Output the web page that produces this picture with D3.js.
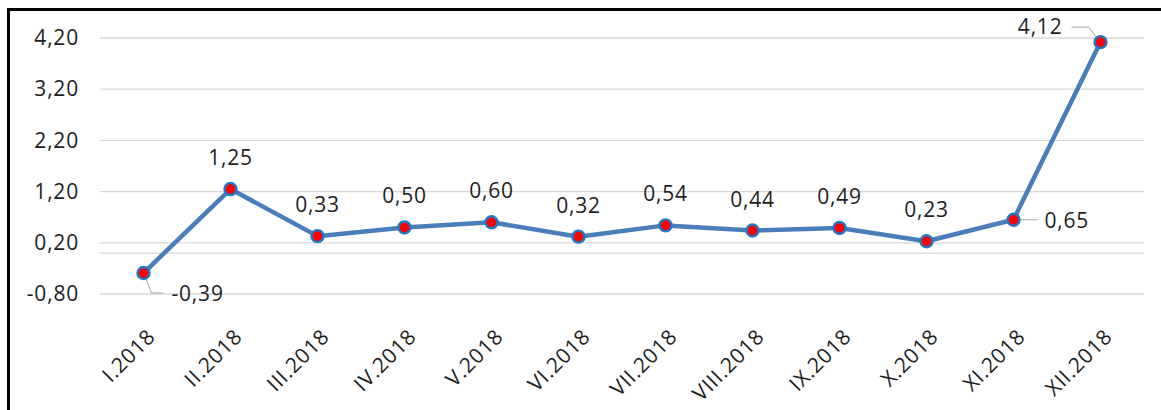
<!DOCTYPE html>
<html>
<head>
<meta charset="utf-8">
<script src="https://cdn.jsdelivr.net/npm/d3@7"></script>
<style>
  body { margin: 0; background: #fff; }
  svg text { font-family: "Open Sans", sans-serif; fill: #1e1e1e; }
</style>
</head>
<body>
<div id="chart"></div>
<script>
// data
const categories = ["I.2018", "II.2018", "III.2018", "IV.2018", "V.2018", "VI.2018",
  "VII.2018", "VIII.2018", "IX.2018", "X.2018", "XI.2018", "XII.2018"];
const values = [-0.39, 1.25, 0.33, 0.50, 0.60, 0.32, 0.54, 0.44, 0.49, 0.23, 0.65, 4.12];
const yTicks = [-0.80, 0.20, 1.20, 2.20, 3.20, 4.20];
// where each data label sits relative to its marker
const labelPlace = ["belowRight", "above", "above", "above", "above", "above",
  "above", "above", "above", "above", "right", "leftAbove"];

const W = 1161, H = 410;
const margin = {top: 38, right: 17, bottom: 116, left: 100};

const svg = d3.select("#chart").append("svg")
  .attr("width", W)
  .attr("height", H);

// frame (left + top only are visible)
svg.append("path")
  .attr("d", `M8.5,${H} L8.5,9.5 L${W},9.5`)
  .attr("fill", "none")
  .attr("stroke", "#000")
  .attr("stroke-width", 3);

const g = svg.append("g")
  .attr("transform", "translate(" + margin.left + "," + margin.top + ")");

const width = W - margin.left - margin.right,
      height = H - margin.top - margin.bottom;

const x = d3.scalePoint()
  .domain(categories)
  .range([0, width])
  .padding(0.5);

const y = d3.scaleLinear()
  .domain([-0.80, 4.20])
  .range([height, 0]);

const fmt = v => d3.format(".2f")(v).replace(".", ",").replace("−", "-");
const FS = "21px", LS = "0.8px";

// gridlines
g.selectAll(".grid")
  .data(yTicks)
  .enter().append("line")
  .attr("x1", 0).attr("x2", width)
  .attr("y1", d => y(d)).attr("y2", d => y(d))
  .attr("stroke", "#d9d9d9")
  .attr("stroke-width", 1.3);

// category axis line at zero
g.append("line")
  .attr("x1", 0).attr("x2", width)
  .attr("y1", y(0)).attr("y2", y(0))
  .attr("stroke", "#d9d9d9")
  .attr("stroke-width", 1.3);

// y axis labels
const yAxis = g.append("g")
  .call(d3.axisLeft(y).tickValues(yTicks).tickSize(0).tickPadding(21).tickFormat(fmt));
yAxis.select(".domain").remove();
yAxis.selectAll("text")
  .style("font-size", FS)
  .style("letter-spacing", LS)
  .attr("fill", "#1e1e1e")
  .attr("font-family", null);

// x axis labels, rotated
g.selectAll(".xlab")
  .data(categories)
  .enter().append("text")
  .attr("class", "xlab")
  .attr("transform", d => "translate(" + (x(d) + 13) + "," + (height + 44) + ") rotate(-45)")
  .attr("text-anchor", "end")
  .style("font-size", FS)
  .style("letter-spacing", LS)
  .text(d => d);

// series line
const line = d3.line()
  .x((d, i) => x(categories[i]))
  .y(d => y(d));

g.append("path")
  .datum(values)
  .attr("fill", "none")
  .attr("stroke", "#4a7ebb")
  .attr("stroke-width", 4.5)
  .attr("stroke-linejoin", "round")
  .attr("d", line);

// leader lines for labels placed away from markers
values.forEach((v, i) => {
  const px = x(categories[i]), py = y(v);
  let pts = null;
  if (labelPlace[i] === "belowRight") pts = [[px, py], [px + 8, py + 20], [px + 20, py + 20]];
  if (labelPlace[i] === "right") pts = [[px, py], [px + 24, py]];
  if (labelPlace[i] === "leftAbove") pts = [[px, py], [px - 12, py - 15], [px - 29, py - 15]];
  if (pts) {
    g.append("path")
      .attr("d", d3.line()(pts))
      .attr("fill", "none")
      .attr("stroke", "#a6a6a6")
      .attr("stroke-width", 1);
  }
});

// markers
g.selectAll(".dot")
  .data(values)
  .enter().append("circle")
  .attr("cx", (d, i) => x(categories[i]))
  .attr("cy", d => y(d))
  .attr("r", 6)
  .attr("fill", "#ff0000")
  .attr("stroke", "#1f78c8")
  .attr("stroke-width", 2.4);

// data labels
g.selectAll(".dlab")
  .data(values)
  .enter().append("text")
  .attr("class", "dlab")
  .attr("x", (d, i) => {
    const px = x(categories[i]);
    if (labelPlace[i] === "belowRight") return px + 28;
    if (labelPlace[i] === "right") return px + 31;
    if (labelPlace[i] === "leftAbove") return px - 38;
    return px;
  })
  .attr("y", (d, i) => {
    const py = y(d);
    if (labelPlace[i] === "belowRight") return py + 28;
    if (labelPlace[i] === "right") return py + 8;
    if (labelPlace[i] === "leftAbove") return py - 8;
    return py - 24;
  })
  .attr("text-anchor", (d, i) => labelPlace[i] === "leftAbove" ? "end"
    : (labelPlace[i] === "above" ? "middle" : "start"))
  .style("font-size", FS)
  .style("letter-spacing", LS)
  .text(d => fmt(d));
</script>
</body>
</html>
